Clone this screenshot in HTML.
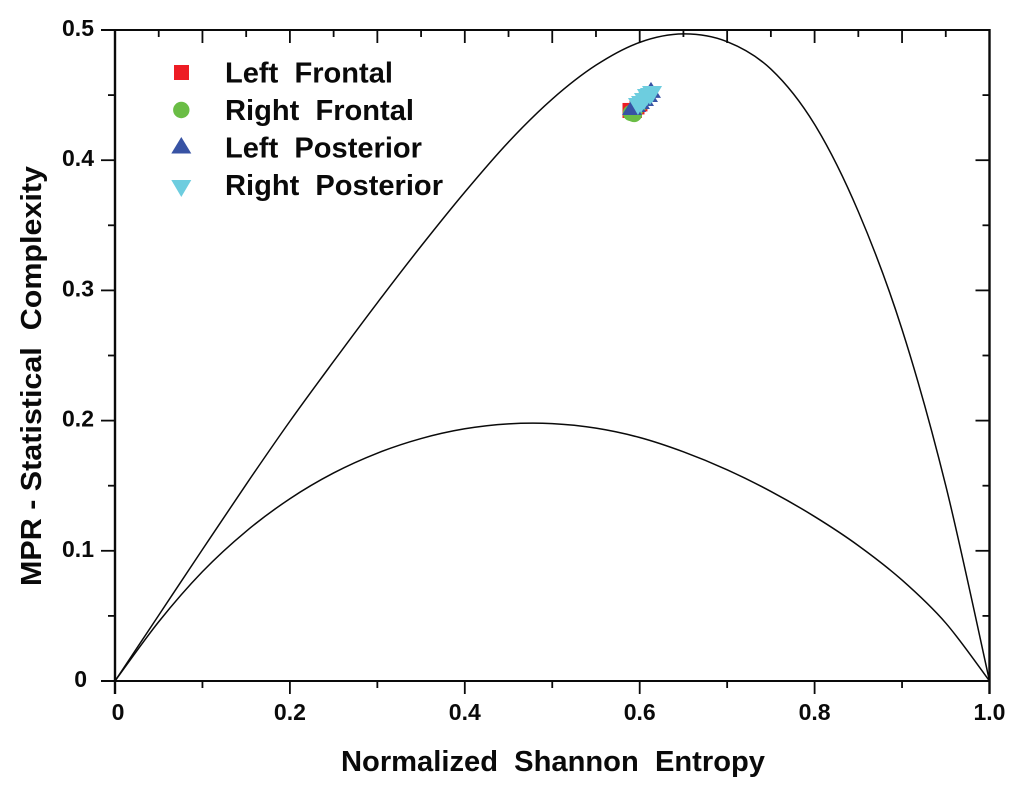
<!DOCTYPE html>
<html>
<head>
<meta charset="utf-8">
<title>MPR Statistical Complexity vs Normalized Shannon Entropy</title>
<style>
html,body{margin:0;padding:0;background:#fff;}
svg{display:block;}
text{font-family:"Liberation Sans",sans-serif;font-weight:bold;fill:#0a0a0a;white-space:pre;}
.tick{font-size:23px;}
.title{font-size:29px;}
.legend{font-size:29px;}
</style>
</head>
<body>
<svg id="chart" width="1024" height="796" viewBox="0 0 1024 796" xmlns="http://www.w3.org/2000/svg">
  <g id="curves"></g>
  <g id="scatter"></g>
  <g id="axes"></g>
  <g id="labels"></g>

  <text class="title" x="341" y="771" textLength="424" lengthAdjust="spacingAndGlyphs">Normalized  Shannon  Entropy</text>
  <text class="title" transform="translate(41,586) rotate(-90)" x="0" y="0" textLength="420" lengthAdjust="spacingAndGlyphs">MPR - Statistical  Complexity</text>

  <g>
    <g>
      <rect x="174" y="65" width="15" height="15" fill="#ed1c24"/>
      <text class="legend" x="225" y="82.5" textLength="168" lengthAdjust="spacingAndGlyphs">Left  Frontal</text>
    </g>
    <g>
      <circle cx="181.3" cy="110" r="8.2" fill="#6abd45"/>
      <text class="legend" x="225" y="120" textLength="189" lengthAdjust="spacingAndGlyphs">Right  Frontal</text>
    </g>
    <g>
      <polygon points="181.3,137 191.3,153.5 171.3,153.5" fill="#3853a4"/>
      <text class="legend" x="225" y="157.5" textLength="197" lengthAdjust="spacingAndGlyphs">Left  Posterior</text>
    </g>
    <g>
      <polygon points="171.3,180 191.3,180 181.3,197" fill="#6dcddf"/>
      <text class="legend" x="225" y="195" textLength="218" lengthAdjust="spacingAndGlyphs">Right  Posterior</text>
    </g>
  </g>
</svg>
<script>
// Data
var upperX = [0, 0.05, 0.1, 0.15, 0.2, 0.25, 0.3, 0.35, 0.4, 0.45, 0.5, 0.55, 0.6, 0.65, 0.7, 0.75, 0.8, 0.85, 0.9, 0.95, 1];
var upperY = [0, 0.0505, 0.101, 0.151, 0.1995, 0.2455, 0.2905, 0.334, 0.3755, 0.414, 0.447, 0.473, 0.4905, 0.497, 0.491, 0.47, 0.4275, 0.3605, 0.27, 0.15, 0];
var lowerX = [0, 0.05, 0.1, 0.15, 0.2, 0.25, 0.3, 0.35, 0.4, 0.45, 0.5, 0.55, 0.6, 0.65, 0.7, 0.75, 0.8, 0.85, 0.9, 0.95, 1];
var lowerY = [0, 0.0455, 0.084, 0.115, 0.14, 0.1598, 0.175, 0.1862, 0.1937, 0.1975, 0.1977, 0.1942, 0.187, 0.176, 0.1622, 0.1456, 0.1263, 0.104, 0.0775, 0.0445, 0];

var leftFrontalX = [0.5889, 0.594, 0.5969, 0.6003];
var leftFrontalY = [0.4382, 0.4382, 0.4409, 0.4432];
var rightFrontalX = [0.59, 0.5935, 0.5958, 0.6015, 0.6072];
var rightFrontalY = [0.4363, 0.4355, 0.4401, 0.4439, 0.4489];
var leftPosteriorX = [0.5912, 0.5958, 0.6003, 0.6049, 0.6095, 0.6129];
var leftPosteriorY = [0.4401, 0.4424, 0.4447, 0.447, 0.4501, 0.4532];
var rightPosteriorX = [0.598, 0.6015, 0.6049, 0.6083, 0.6118, 0.6141];
var rightPosteriorY = [0.4424, 0.4439, 0.4462, 0.4493, 0.4501, 0.4516];

var xTickValues = [0, 0.2, 0.4, 0.6, 0.8, 1];
var xTickLabels = ["0", "0.2", "0.4", "0.6", "0.8", "1.0"];
var yTickValues = [0, 0.1, 0.2, 0.3, 0.4, 0.5];
var yTickLabels = ["0", "0.1", "0.2", "0.3", "0.4", "0.5"];

var NS = "http://www.w3.org/2000/svg";
var X0 = 115, X1 = 989.5, Y0 = 681, Y1 = 30;
function sx(v) { return X0 + v * (X1 - X0); }
function sy(v) { return Y0 - (v / 0.5) * (Y0 - Y1); }

function smoothPath(xs, ys) {
  var p = xs.map(function (x, i) { return [sx(x), sy(ys[i])]; });
  var d = "M" + p[0][0].toFixed(2) + " " + p[0][1].toFixed(2);
  for (var i = 0; i < p.length - 1; i++) {
    var a = p[Math.max(i - 1, 0)], b = p[i], c = p[i + 1], e = p[Math.min(i + 2, p.length - 1)];
    var c1x = b[0] + (c[0] - a[0]) / 6, c1y = b[1] + (c[1] - a[1]) / 6;
    var c2x = c[0] - (e[0] - b[0]) / 6, c2y = c[1] - (e[1] - b[1]) / 6;
    d += "C" + [c1x, c1y, c2x, c2y, c[0], c[1]].map(function (n) { return n.toFixed(2); }).join(" ");
  }
  return d;
}

var curves = document.getElementById("curves");
var upperCurve = document.createElementNS(NS, "path");


upperCurve.setAttribute("d", smoothPath(upperX, upperY));
upperCurve.setAttribute("fill", "none");
upperCurve.setAttribute("stroke", "#0a0a0a");
upperCurve.setAttribute("stroke-width", "1.5");
curves.appendChild(upperCurve);

var lowerCurve = document.createElementNS(NS, "path");


lowerCurve.setAttribute("d", smoothPath(lowerX, lowerY));
lowerCurve.setAttribute("fill", "none");
lowerCurve.setAttribute("stroke", "#0a0a0a");
lowerCurve.setAttribute("stroke-width", "1.5");
curves.appendChild(lowerCurve);

var scatter = document.getElementById("scatter");
function tri(cx, cy, up) {
  return up
    ? (cx + "," + (cy - 9) + " " + (cx + 10) + "," + (cy + 7) + " " + (cx - 10) + "," + (cy + 7))
    : ((cx - 10) + "," + (cy - 7) + " " + (cx + 10) + "," + (cy - 7) + " " + cx + "," + (cy + 10));
}

leftFrontalX.forEach(function (v, i) {
  var el = document.createElementNS(NS, "rect");
  
  
  el.setAttribute("x", sx(v) - 7.5);
  el.setAttribute("y", sy(leftFrontalY[i]) - 7.5);
  el.setAttribute("width", 15);
  el.setAttribute("height", 15);
  el.setAttribute("fill", "#ed1c24");
  scatter.appendChild(el);
});
rightFrontalX.forEach(function (v, i) {
  var el = document.createElementNS(NS, "circle");
  
  
  el.setAttribute("cx", sx(v));
  el.setAttribute("cy", sy(rightFrontalY[i]));
  el.setAttribute("r", 8.2);
  el.setAttribute("fill", "#6abd45");
  scatter.appendChild(el);
});
leftPosteriorX.forEach(function (v, i) {
  var el = document.createElementNS(NS, "polygon");
  
  
  el.setAttribute("points", tri(sx(v), sy(leftPosteriorY[i]), true));
  el.setAttribute("fill", "#3853a4");
  scatter.appendChild(el);
});
rightPosteriorX.forEach(function (v, i) {
  var el = document.createElementNS(NS, "polygon");
  
  
  el.setAttribute("points", tri(sx(v), sy(rightPosteriorY[i]), false));
  el.setAttribute("fill", "#6dcddf");
  scatter.appendChild(el);
});

var axes = document.getElementById("axes");
function seg(x1, y1, x2, y2, w, name) {
  var el = document.createElementNS(NS, "line");
  
  
  el.setAttribute("x1", x1);
  el.setAttribute("y1", y1);
  el.setAttribute("x2", x2);
  el.setAttribute("y2", y2);
  el.setAttribute("stroke", "#0a0a0a");
  el.setAttribute("stroke-width", w);
  axes.appendChild(el);
}
// frame
seg(101, Y0, X1 + 1, Y0, 2, "x-axis-line");
seg(101, Y1, X1 + 1, Y1, 2, "top-axis-line");
seg(X0, Y1 - 1, X0, 694, 2.4, "y-axis-line");
seg(X1, Y1 - 1, X1, 694, 2.4, "right-axis-line");

var i, v;
// bottom ticks: long at even tenths, short at odd tenths
for (i = 1; i < 10; i++) {
  v = i / 10;
  seg(sx(v), Y0, sx(v), Y0 + (i % 2 === 0 ? 13 : 7), 1.8, "x-tick-bottom");
}
// top ticks: long at tenths, short at twentieths
for (i = 1; i < 20; i++) {
  v = i / 20;
  seg(sx(v), Y1, sx(v), Y1 + (i % 2 === 0 ? 13 : 7), 1.8, "x-tick-top");
}
// left and right ticks
for (i = 1; i < 10; i++) {
  v = i / 20;
  seg(X0, sy(v), X0 - (i % 2 === 0 ? 14 : 7), sy(v), 1.8, "y-tick-left");
  seg(X1, sy(v), X1 - (i % 2 === 0 ? 14 : 7), sy(v), 1.8, "y-tick-right");
}

var labels = document.getElementById("labels");
xTickValues.forEach(function (v, i) {
  var t = document.createElementNS(NS, "text");
  
  
  t.setAttribute("class", "tick");
  t.setAttribute("x", sx(v) + (v === 0 ? 3 : 0));
  t.setAttribute("y", 720);
  t.setAttribute("text-anchor", "middle");
  t.textContent = xTickLabels[i];
  labels.appendChild(t);
});
yTickValues.forEach(function (v, i) {
  var t = document.createElementNS(NS, "text");
  
  
  t.setAttribute("class", "tick");
  t.setAttribute("x", v === 0 ? 87 : 94);
  t.setAttribute("y", sy(v) + 6);
  t.setAttribute("text-anchor", "end");
  t.textContent = yTickLabels[i];
  labels.appendChild(t);
});
</script>
</body>
</html>
